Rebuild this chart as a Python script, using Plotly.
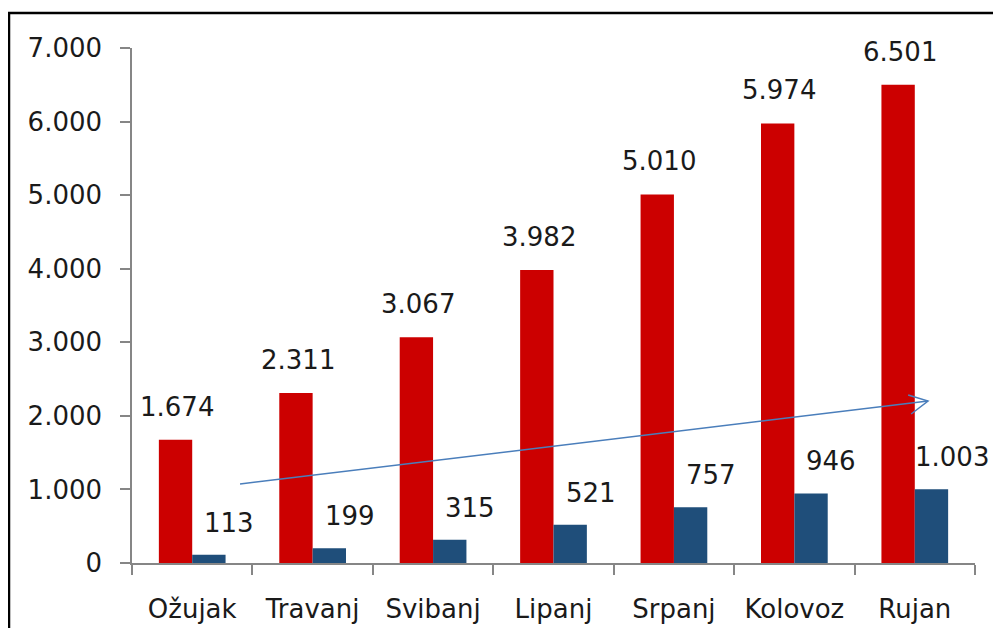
import plotly.graph_objects as go

# podaci s grafa
mjeseci = ["Ožujak", "Travanj", "Svibanj", "Lipanj", "Srpanj", "Kolovoz", "Rujan"]
serija_crvena = [1674, 2311, 3067, 3982, 5010, 5974, 6501]
serija_plava = [113, 199, 315, 521, 757, 946, 1003]
y_tickovi = [0, 1000, 2000, 3000, 4000, 5000, 6000, 7000]

# strelica (ukras), u koordinatama osi: indeks kategorije, vrijednost
strelica_od = (0.397, 1074)
strelica_do = (6.11, 2202)
strelica_krak1 = (5.945, 2284)
strelica_krak2 = (5.97, 2025)

CRVENA = "#CC0000"
PLAVA = "#1F4E7A"
SIVA = "#868686"
FONT = "DejaVu Sans"


def fmt(v):
    return f"{v:,}".replace(",", ".")


fig = go.Figure()
fig.add_trace(go.Bar(x=mjeseci, y=serija_crvena, marker=dict(color=CRVENA, line=dict(width=0))))
fig.add_trace(go.Bar(x=mjeseci, y=serija_plava, marker=dict(color=PLAVA, line=dict(width=0))))

# oznake vrijednosti
for m, v in zip(mjeseci, serija_crvena):
    fig.add_annotation(x=m, y=v, text=fmt(v), showarrow=False, xshift=-15, yshift=33,
                       yanchor="middle", font=dict(family=FONT, size=26, color="#1a1a1a"))
for m, v in zip(mjeseci, serija_plava):
    fig.add_annotation(x=m, y=v, text=fmt(v), showarrow=False, xshift=37, yshift=32,
                       yanchor="middle", font=dict(family=FONT, size=26, color="#1a1a1a"))

# strelica
fig.add_shape(type="line", xref="x", yref="y",
              x0=strelica_od[0], y0=strelica_od[1], x1=strelica_do[0], y1=strelica_do[1],
              line=dict(color="#4A7EBB", width=1.5))
fig.add_shape(type="path", xref="x", yref="y",
              path=f"M {strelica_krak1[0]},{strelica_krak1[1]} L {strelica_do[0]},{strelica_do[1]} "
                   f"L {strelica_krak2[0]},{strelica_krak2[1]}",
              line=dict(color="#4A7EBB", width=1.5))

# okvir
fig.add_shape(type="rect", xref="paper", yref="paper",
              x0=-0.1459, y0=-0.2, x1=1.05, y1=1.0679,
              line=dict(color="black", width=2.5), layer="below")

fig.update_layout(
    width=985, height=620,
    margin=dict(l=124, r=18, t=40, b=65),
    paper_bgcolor="white", plot_bgcolor="white",
    barmode="group", bargap=0.446, bargroupgap=0,
    showlegend=False,
    separators=",.",
    font=dict(family=FONT, size=26, color="#1a1a1a"),
)
fig.update_xaxes(
    range=[-0.5, len(mjeseci) - 0.5], automargin=False,
    showline=True, linecolor=SIVA, linewidth=1.5,
    ticks="outside", ticklen=10, tickcolor=SIVA, tickwidth=1.5,
    tickson="boundaries", showgrid=False, ticklabelstandoff=22,
    tickfont=dict(family=FONT, size=26),
)
fig.update_yaxes(
    range=[0, 7000], tickvals=y_tickovi, ticktext=[fmt(t) for t in y_tickovi],
    automargin=False,
    showline=True, linecolor=SIVA, linewidth=1.5,
    ticks="outside", ticklen=10, tickcolor=SIVA, tickwidth=1.5,
    showgrid=False, zeroline=False, ticklabelstandoff=13,
    tickfont=dict(family=FONT, size=26),
)

fig.write_html("out.html")
